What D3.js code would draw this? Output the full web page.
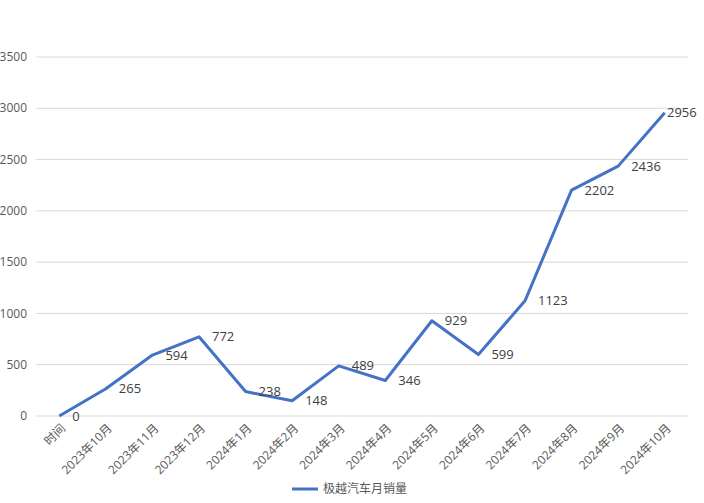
<!DOCTYPE html>
<html>
<head>
<meta charset="utf-8">
<script src="https://cdn.jsdelivr.net/npm/d3@7"></script>
<style>
    html, body { margin: 0; padding: 0; background: #fff; }
    svg text { font-family: "Open Sans", "Noto Sans CJK SC", sans-serif; }
</style>
</head>
<body>
<div id="chart"></div>
<script>
// 极越汽车月销量
const categories = ["时间", "2023年10月", "2023年11月", "2023年12月", "2024年1月", "2024年2月",
    "2024年3月", "2024年4月", "2024年5月", "2024年6月", "2024年7月", "2024年8月", "2024年9月", "2024年10月"];
const sales = [0, 265, 594, 772, 238, 148, 489, 346, 929, 599, 1123, 2202, 2436, 2956];
const yTicks = [0, 500, 1000, 1500, 2000, 2500, 3000, 3500];
const seriesName = "极越汽车月销量";

const W = 704, H = 503;
const margin = { top: 57, right: 16, bottom: 87, left: 36 };
const width = W - margin.left - margin.right;
const height = H - margin.top - margin.bottom;

const svg = d3.select("#chart").append("svg")
    .attr("width", W)
    .attr("height", H);

const g = svg.append("g")
    .attr("transform", `translate(${margin.left},${margin.top})`);

const x = d3.scaleBand().domain(categories).range([0, width]);
const y = d3.scaleLinear().domain([0, 3500]).range([height, 0]);

// gridlines
g.selectAll(".grid").data(yTicks).enter()
    .append("line")
    .attr("x1", 0).attr("x2", width)
    .attr("y1", d => y(d)).attr("y2", d => y(d))
    .attr("stroke", "#d9d9d9")
    .attr("stroke-width", 1);

// y tick labels
g.selectAll(".ytick").data(yTicks).enter()
    .append("text")
    .attr("x", -9)
    .attr("y", d => y(d))
    .attr("dy", "0.35em")
    .attr("text-anchor", "end")
    .attr("font-size", 12)
    .attr("fill", "#595959")
    .text(d => d);

// x tick labels, rotated
g.selectAll(".xtick").data(categories).enter()
    .append("text")
    .attr("transform", d => `translate(${x(d) + x.bandwidth() / 2 + 4},${height + 10}) rotate(-45)`)
    .attr("text-anchor", "end")
    .attr("dy", "0.35em")
    .attr("font-size", 12)
    .attr("fill", "#595959")
    .text(d => d);

const cx = d => x(d) + x.bandwidth() / 2;

const line = d3.line()
    .x((d, i) => cx(categories[i]))
    .y(d => y(d));

g.append("path")
    .datum(sales)
    .attr("fill", "none")
    .attr("stroke", "#4472c4")
    .attr("stroke-width", 3)
    .attr("stroke-linejoin", "round")
    .attr("d", line);

// data labels to the right of each point
g.selectAll(".lbl").data(sales).enter()
    .append("text")
    .attr("x", (d, i) => Math.min(cx(categories[i]) + 13, width + 9 - String(d).length * 7.5))
    .attr("y", d => y(d))
    .attr("dy", "0.35em")
    .attr("font-size", 13)
    .attr("fill", "#404040")
    .text(d => d);

// legend
const legend = svg.append("g").attr("transform", `translate(292,489)`);
legend.append("line")
    .attr("x1", 0).attr("x2", 26)
    .attr("stroke", "#4472c4")
    .attr("stroke-width", 3);
legend.append("text")
    .attr("x", 31)
    .attr("dy", "0.35em")
    .attr("font-size", 12)
    .attr("fill", "#595959")
    .text(seriesName);
</script>
</body>
</html>
